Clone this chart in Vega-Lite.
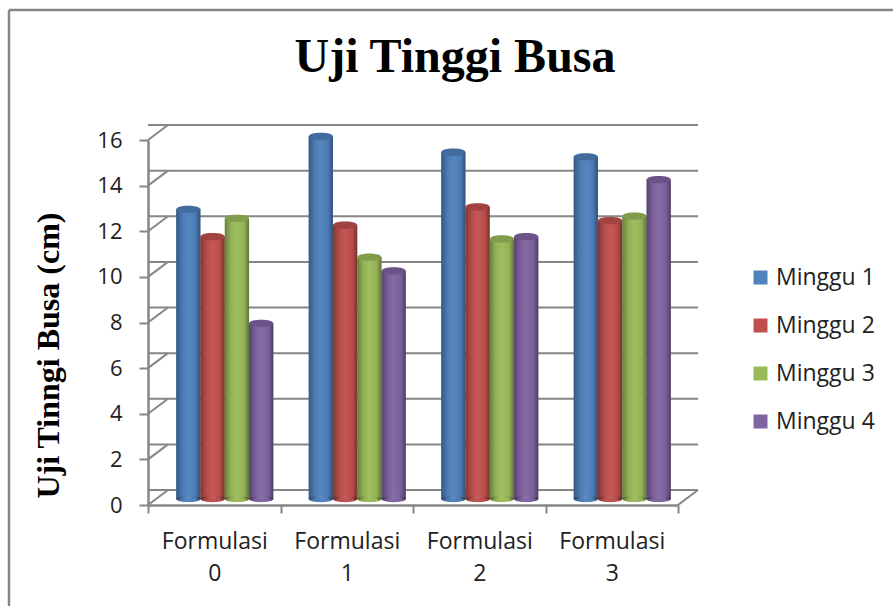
{
"$schema":"https://vega.github.io/schema/vega-lite/v6.json",
"width":530,"height":365,
"autosize":{"type":"none"},
"padding":{"left":148,"top":140,"right":215,"bottom":101},
"background":"white",
"config":{"view":{"stroke":null},"legend":{"title":null,"orient":"none","legendX":601,"legendY":126,"symbolType":"square","symbolSize":196,"symbolStrokeWidth":0,"labelFont":"Open Sans","labelFontSize":23,"labelColor":"#222222","labelOffset":4,"rowPadding":24,"columns":1}},
"title":{"text":"Uji Tinggi Busa","font":"Liberation Serif","fontWeight":"bold","fontSize":48,"color":"#000000","anchor":"middle","dx":42,"offset":-115,"baseline":"alphabetic"},
"datasets":{
"bars":[
{"formulasi":"Formulasi 0","minggu":"Minggu 1","tinggi":12.7},
{"formulasi":"Formulasi 0","minggu":"Minggu 2","tinggi":11.5},
{"formulasi":"Formulasi 0","minggu":"Minggu 3","tinggi":12.3},
{"formulasi":"Formulasi 0","minggu":"Minggu 4","tinggi":7.7},
{"formulasi":"Formulasi 1","minggu":"Minggu 1","tinggi":15.9},
{"formulasi":"Formulasi 1","minggu":"Minggu 2","tinggi":12},
{"formulasi":"Formulasi 1","minggu":"Minggu 3","tinggi":10.6},
{"formulasi":"Formulasi 1","minggu":"Minggu 4","tinggi":10},
{"formulasi":"Formulasi 2","minggu":"Minggu 1","tinggi":15.2},
{"formulasi":"Formulasi 2","minggu":"Minggu 2","tinggi":12.8},
{"formulasi":"Formulasi 2","minggu":"Minggu 3","tinggi":11.4},
{"formulasi":"Formulasi 2","minggu":"Minggu 4","tinggi":11.5},
{"formulasi":"Formulasi 3","minggu":"Minggu 1","tinggi":15},
{"formulasi":"Formulasi 3","minggu":"Minggu 2","tinggi":12.2},
{"formulasi":"Formulasi 3","minggu":"Minggu 3","tinggi":12.4},
{"formulasi":"Formulasi 3","minggu":"Minggu 4","tinggi":14}
],
"grid":[{"v":0},{"v":2},{"v":4},{"v":6},{"v":8},{"v":10},{"v":12},{"v":14},{"v":16}]
},
"resolve":{"scale":{"x":"shared","y":"shared"}},
"layer":[
{"data":{"name":"grid"},"mark":{"type":"point","shape":"M-0.808,-0.625L-0.808,0.75M-0.808,-0.625L1,-0.625","size":1000000,"filled":false,"stroke":"#868686","strokeWidth":2.5,"opacity":1,"clip":false},
 "transform":[{"filter":"datum.v==8"}],
 "encoding":{"y":{"field":"v","type":"quantitative","scale":{"domain":[0,16],"nice":false},
    "axis":{"title":"Uji Tinngi Busa (cm)","titleFont":"Liberation Serif","titleFontWeight":"bold","titleFontSize":32,"titleColor":"#000000","titleX":-83,"titleY":215,"values":[0,2,4,6,8,10,12,14,16],"labelFont":"Open Sans","labelFontSize":22,"labelColor":"#222222","labelPadding":17,"tickSize":9,"tickWidth":2,"tickColor":"#868686","domainColor":"#868686","domainWidth":2.5,"grid":false}}}},
{"data":{"name":"grid"},"mark":{"type":"rule","stroke":"#868686","strokeWidth":2,"xOffset":20,"x2Offset":20,"yOffset":-15},
 "encoding":{"y":{"field":"v","type":"quantitative"}}},
{"data":{"name":"grid"},"mark":{"type":"point","shape":"M-1,0.75L1,-0.75","size":400,"filled":false,"stroke":"#868686","strokeWidth":2,"opacity":1,"xOffset":10,"yOffset":-7.5},
 "encoding":{"x":{"datum":"Formulasi 0","type":"nominal","bandPosition":0,
    "scale":{"domain":["Formulasi 0","Formulasi 1","Formulasi 2","Formulasi 3"],"paddingInner":0,"paddingOuter":0},
    "axis":{"title":null,"labelAngle":0,"labelExpr":"split(datum.label,' ')","labelFont":"Open Sans","labelFontSize":23,"labelColor":"#222222","labelPadding":17,"labelLineHeight":32,"labelBaseline":"top","tickBand":"extent","tickSize":8,"tickWidth":2,"tickColor":"#868686","domainColor":"#868686","domainWidth":2.5,"grid":false}},"y":{"field":"v","type":"quantitative"}}},
{"data":{"name":"grid"},"mark":{"type":"point","shape":"M-1,0.75L1,-0.75","size":400,"filled":false,"stroke":"#868686","strokeWidth":2,"opacity":1,"xOffset":10,"yOffset":-7.5},
 "transform":[{"filter":"datum.v==0"}],
 "encoding":{"x":{"datum":"Formulasi 3","type":"nominal","bandPosition":1},"y":{"field":"v","type":"quantitative"}}},
{"data":{"name":"bars"},
 "encoding":{
  "x":{"field":"formulasi","type":"nominal"},
  "xOffset":{"field":"minggu","type":"nominal","scale":{"paddingInner":0,"paddingOuter":0.727,"range":[10.5,143]}},
  "y":{"field":"tinggi","type":"quantitative"}
 },
 "layer":[
  {"mark":{"type":"point","shape":"M-1,0A1,0.26 0 1,1 1,0A1,0.26 0 1,1 -1,0Z","size":590,"filled":true,"opacity":1,"yOffset":-6},
   "encoding":{"y":{"datum":0,"type":"quantitative"},"color":{"field":"minggu","type":"nominal","scale":{"domain":["Minggu 1","Minggu 2","Minggu 3","Minggu 4"],"range":["#4F81BD","#C0504D","#9BBB59","#8064A2"]}}}},
  {"mark":{"type":"bar","yOffset":-6,"y2Offset":-6},
   "encoding":{"color":{"field":"minggu","type":"nominal"}}},
  {"mark":{"type":"bar","yOffset":-6,"y2Offset":-6,
     "color":{"gradient":"linear","x1":0,"x2":1,"y1":0,"y2":0,"stops":[{"offset":0,"color":"rgba(0,0,0,0.32)"},{"offset":0.25,"color":"rgba(0,0,0,0.06)"},{"offset":0.5,"color":"rgba(255,255,255,0.04)"},{"offset":0.8,"color":"rgba(0,0,0,0.05)"},{"offset":1,"color":"rgba(0,0,0,0.38)"}]}}},
  {"mark":{"type":"point","shape":"M-1,0A1,0.26 0 1,1 1,0A1,0.26 0 1,1 -1,0Z","size":590,"filled":true,"opacity":1,"yOffset":-6,
     "color":{"gradient":"linear","x1":0,"x2":1,"y1":0,"y2":0,"stops":[{"offset":0,"color":"rgba(0,0,0,0.32)"},{"offset":0.25,"color":"rgba(0,0,0,0.06)"},{"offset":0.5,"color":"rgba(255,255,255,0.04)"},{"offset":0.8,"color":"rgba(0,0,0,0.05)"},{"offset":1,"color":"rgba(0,0,0,0.38)"}]}},
   "encoding":{"y":{"datum":0,"type":"quantitative"}}},
  {"mark":{"type":"point","shape":"M-1,0A1,0.3 0 1,1 1,0A1,0.3 0 1,1 -1,0Z","size":590,"filled":true,"opacity":1,"yOffset":-6},
   "encoding":{"color":{"field":"minggu","type":"nominal"}}},
  {"mark":{"type":"point","shape":"M-1,0A1,0.3 0 1,1 1,0A1,0.3 0 1,1 -1,0Z","size":590,"filled":true,"opacity":0.16,"color":"#000000","yOffset":-6}}
 ]}
]
}
